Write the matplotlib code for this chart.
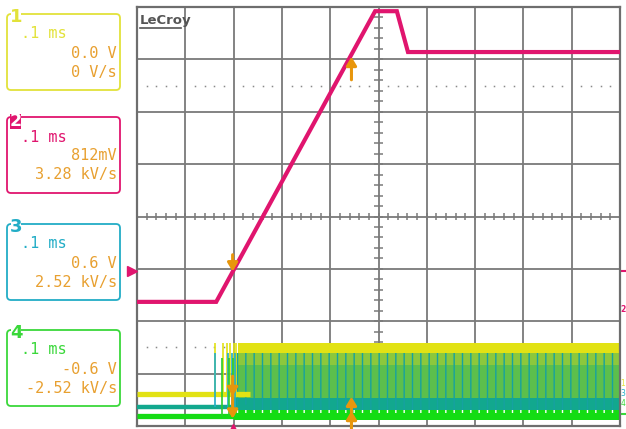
import numpy as np
import matplotlib.pyplot as plt
from matplotlib.patches import FancyBboxPatch, Rectangle

# channel readouts on the left
ch_names = ['1', '2', '3', '4']
ch_time = ['.1 ms', '.1 ms', '.1 ms', '.1 ms']
ch_level = ['0.0 V', '812mV', '0.6 V', '-0.6 V']
ch_slope = ['0 V/s', '3.28 kV/s', '2.52 kV/s', '-2.52 kV/s']
ch_colors = ['#e2e23a', '#e0156e', '#22adc6', '#3ad83a']
value_color = '#e8a030'

# ch2 (pink) trace, in screen divisions
ch2_t = [0, 1.64, 4.93, 5.38, 5.61, 10]
ch2_v = [2.37, 2.37, 7.92, 7.92, 7.14, 7.14]

# switching channels: idle levels, then a dense pulse band
ch1_idle = 0.61
ch3_idle = 0.36
ch4_idle = 0.19
ch1_high = 1.58
ch3_high = 1.39
ch4_high = 1.30
early_t1 = [1.61, 1.78, 1.86, 1.93, 2.0, 2.06]
early_t3 = [1.62, 1.89, 1.96, 2.03]
early_t4 = [1.75, 1.91, 1.99]
band_edges = [0.115, 0.305, 0.534, 1.16, 1.393, 1.584]
band_start = [2.0, 2.0, 2.0, 2.05, 2.1]
band_colors = ['#14dc14', '#12a88e', '#5cbf4c', '#8cc83c', '#e2e214']

# cursor arrows (t, y_from, y_to)
arrows = [(1.98, 3.27, 2.95), (4.44, 6.61, 7.05),
          (1.98, 0.95, 0.57), (1.98, 0.60, 0.14),
          (4.44, -0.08, 0.29), (4.44, 0.26, 0.56)]
arrow_color = '#e8960c'

fig = plt.figure(figsize=(6.26, 4.29), dpi=100)
fig.patch.set_facecolor('white')

# left side readout boxes, pixel coords
pan = fig.add_axes([0, 0, 1, 1])
pan.set_xlim(0, 626)
pan.set_ylim(429, 0)
pan.axis('off')
box_top = [14, 117, 224, 330]
for i in range(4):
    top = box_top[i]
    c = ch_colors[i]
    pan.add_patch(FancyBboxPatch((7, top), 113, 76, boxstyle='round,pad=0,rounding_size=4',
                                 fill=False, ec=c, lw=1.3))
    if i == 1:
        pan.add_patch(Rectangle((10, top - 3), 11, 15, fc=c, ec='none'))
        pan.text(15.5, top + 4, ch_names[i], color='white', fontsize=12.5,
                 fontweight='bold', ha='center', va='center')
    else:
        pan.add_patch(Rectangle((11, top - 4), 10, 8, fc='white', ec='none'))
        pan.text(16, top + 3, ch_names[i], color=c, fontsize=13,
                 fontweight='bold', ha='center', va='center')
    pan.text(21, top + 20, ch_time[i], color=c, fontsize=11,
             family='DejaVu Sans Mono', va='center', ha='left')
    pan.text(117, top + 39, ch_level[i], color=value_color, fontsize=11,
             family='DejaVu Sans Mono', va='center', ha='right')
    pan.text(117, top + 58, ch_slope[i], color=value_color, fontsize=11,
             family='DejaVu Sans Mono', va='center', ha='right')

# small markers on the right edge
pan.plot([620, 626], [271, 271], color=ch_colors[1], lw=1.5)
pan.text(620.5, 310, '2', color=ch_colors[1], fontsize=5.5,
         va='center', ha='left', fontweight='bold')
pan.text(620.5, 383, '1', color=ch_colors[0], fontsize=5.5, va='center', ha='left')
pan.text(620.5, 394, '3', color=ch_colors[2], fontsize=5.5, va='center', ha='left')
pan.text(620.5, 404, '4', color=ch_colors[3], fontsize=5.5, va='center', ha='left')
pan.plot([620, 626], [414, 414], color=ch_colors[3], lw=1.5)

ax = fig.add_axes([137 / 626, 3 / 429, 483 / 626, 419 / 429])
ax.set_xlim(0, 10)
ax.set_ylim(0, 8)
ax.set_xticks([])
ax.set_yticks([])
for s in ax.spines.values():
    s.set_color('#6e6e6e')
    s.set_linewidth(1.6)

grid_c = '#7a7a7a'
for k in range(1, 10):
    ax.axvline(k, color=grid_c, lw=1.3, zorder=1)
for k in range(1, 8):
    ax.axhline(k, color=grid_c, lw=1.3, zorder=1)

# center axis tick marks
minor_x = np.arange(0, 10.01, 0.2)
minor_y = np.arange(0, 8.01, 0.2)
ax.vlines(minor_x, 4 - 0.06, 4 + 0.06, color=grid_c, lw=1.1, zorder=1)
ax.hlines(minor_y, 5 - 0.085, 5 + 0.085, color=grid_c, lw=1.1, zorder=1)

# dotted rows
dots_x = [x for x in minor_x if abs(x - round(x)) > 0.01]
for yy in [6.5, 1.5]:
    ax.plot(dots_x, [yy] * len(dots_x), ls='none', marker='s', ms=1.1,
            color='#8a8a8a', mec='none', zorder=1)

# LeCroy logo
ax.text(0.06, 7.74, 'LeCroy', fontsize=9.5, fontweight='bold', color='#555555',
        va='center', ha='left', family='DejaVu Sans')
ax.plot([0.06, 0.92], [7.59, 7.59], color='#555555', lw=1.2)

# idle lines of the switching channels
ax.plot([0, 2.34], [ch1_idle, ch1_idle], color=band_colors[4], lw=3.8, zorder=3, solid_capstyle='butt')
ax.plot([0, 2.3], [ch3_idle, ch3_idle], color=band_colors[1], lw=3.2, zorder=3, solid_capstyle='butt')
ax.plot([0, 2.0], [ch4_idle, ch4_idle], color=band_colors[0], lw=3.8, zorder=3, solid_capstyle='butt')

# early pulses
ax.vlines(early_t1, ch1_idle, ch1_high, color=band_colors[4], lw=1.2, zorder=3)
ax.vlines(early_t3, ch3_idle, ch3_high, color=ch_colors[2], lw=1.2, zorder=3)
ax.vlines(early_t4, ch4_idle, ch4_high, color='#2ccc2c', lw=1.2, zorder=3)

# dense switching bands
for i in range(5):
    ax.fill_between([band_start[i], 10], band_edges[i], band_edges[i + 1],
                    color=band_colors[i], lw=0, zorder=2)
ax.fill_between([2.05, 10], band_edges[1], band_edges[4], facecolor='none',
                hatch='||', edgecolor='#16a2a0', lw=0, zorder=2)
ax.fill_between([2.0, 10], 0.25, band_edges[1], facecolor='none',
                hatch='||', edgecolor='white', lw=0, zorder=2)

# ch2 trace
ax.plot(ch2_t, ch2_v, color=ch_colors[1], lw=3, zorder=4, solid_joinstyle='miter')
ax.plot([-0.1], [2.96], marker='>', color=ch_colors[1], ms=7, clip_on=False, zorder=5)
ax.plot([1.99], [-0.06], marker='^', color=ch_colors[1], ms=7, clip_on=False, zorder=5)

for t, y0, y1 in arrows:
    ax.annotate('', xy=(t, y1), xytext=(t, y0), annotation_clip=False, zorder=6,
                arrowprops=dict(arrowstyle='-|>,head_length=0.5,head_width=0.3',
                                color=arrow_color, lw=2.2, shrinkA=0, shrinkB=0))

fig.savefig('out.png', dpi=100)
